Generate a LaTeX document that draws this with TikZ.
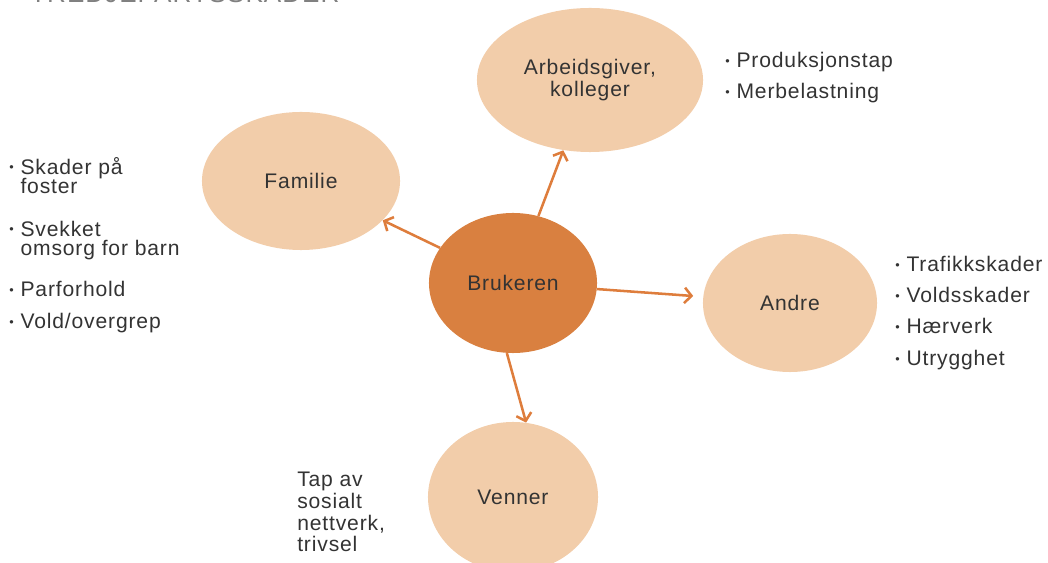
\documentclass[tikz,border=0pt]{standalone}
\usepackage{fontspec}
\setmainfont[LetterSpace=4]{Liberation Sans}
\usetikzlibrary{shapes.geometric,arrows.meta}
\definecolor{peach}{HTML}{F2CDAA}
\definecolor{rust}{HTML}{D98040}
\definecolor{arrowor}{HTML}{DE7D3C}
\definecolor{txt}{HTML}{333333}
\newcommand{\bul}{\makebox[8pt][l]{\raisebox{1.5pt}{\fontsize{9}{9}\selectfont•}}}

\begin{document}
\begin{tikzpicture}[x=0.025cm,y=-0.025cm,
    every node/.style={font=\fontsize{15}{14.2}\selectfont,text=txt,inner sep=0pt},
    blob/.style={ellipse,fill=peach,align=center,font=\fontsize{15}{15.6}\selectfont},
    item/.style={anchor=base west,align=left},
    arr/.style={draw=arrowor,line width=1.8pt,-{Straight Barb[length=5pt,width=11pt]}}]
  \useasboundingbox (0,0) rectangle (1048,563);
  \node[anchor=base west,font=\fontsize{18.5}{18.5}\selectfont,text=gray] (title) at (30,3) {TREDJEPARTSSKADER};

  \node[blob,minimum width=5.65cm,minimum height=3.6cm] (arb) at (590,80) {Arbeidsgiver,\\kolleger};
  \node[blob,minimum width=4.95cm,minimum height=3.45cm] (fam) at (301,181) {Familie};
  \node[blob,fill=rust,minimum width=4.2cm,minimum height=3.5cm] (bru) at (513,283) {Brukeren};
  \node[blob,minimum width=4.35cm,minimum height=3.45cm] (and) at (790,303) {Andre};
  \node[blob,minimum width=4.25cm,minimum height=3.75cm] (ven) at (513,497) {Venner};

  \draw[arr] (bru) -- (fam);
  \draw[arr] (bru) -- (arb);
  \draw[arr,shorten >=7pt] (bru) -- (and);
  \draw[arr] (bru.-95) -- (ven.80);

  \node[item] (prod) at (725,68) {\bul Produksjonstap};
  \node[item] (merb) at (725,99) {\bul Merbelastning};

  \node[item] (skad) at (9,194) {\bul Skader på\\\hphantom{\bul}foster};
  \node[item] (svek) at (9,256) {\bul Svekket\\\hphantom{\bul}omsorg for barn};
  \node[item] (parf) at (9,297) {\bul Parforhold};
  \node[item] (vold) at (9,329) {\bul Vold/overgrep};

  \node[item] (traf) at (895,272) {\bul Trafikkskader};
  \node[item] (vods) at (895,303) {\bul Voldsskader};
  \node[item] (haer) at (895,334) {\bul Hærverk};
  \node[item] (utry) at (895,366) {\bul Utrygghet};

  \node[item,font=\fontsize{15}{15.6}\selectfont] (tap) at (297,552) {Tap av\\sosialt\\nettverk,\\trivsel};
\end{tikzpicture}
\end{document}
